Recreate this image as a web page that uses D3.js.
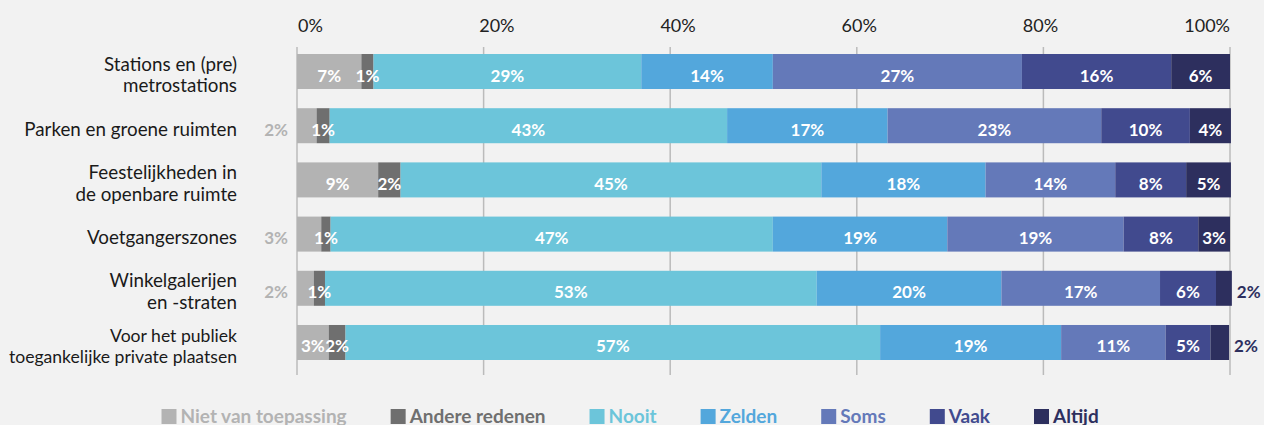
<!DOCTYPE html>
<html>
<head>
<meta charset="utf-8">
<script src="https://cdn.jsdelivr.net/npm/d3@7"></script>
<style>
  html, body { margin: 0; padding: 0; background: #f2f2f2; }
  svg { display: block; font-family: Lato, "Open Sans", sans-serif; }
</style>
</head>
<body>
<svg id="chart" width="1264" height="425"></svg>
<script>
// rows, top to bottom
var categories = [
  "Stations en (pre)\nmetrostations",
  "Parken en groene ruimten",
  "Feestelijkheden in\nde openbare ruimte",
  "Voetgangerszones",
  "Winkelgalerijen\nen -straten",
  "Voor het publiek\ntoegankelijke private plaatsen"
];

var seriesNames = ["Niet van toepassing", "Andere redenen", "Nooit", "Zelden", "Soms", "Vaak", "Altijd"];
var seriesColors = ["#b3b3b3", "#6f6f6f", "#6cc5da", "#53a7dc", "#6479b9", "#414a8e", "#2d2f5e"];

// percentages per row
var nietVanToepassing = [6.9, 2.1, 8.7, 2.6, 1.8, 3.4];
var andereRedenen     = [1.3, 1.4, 2.4, 1.0, 1.2, 1.8];
var nooit             = [28.7, 42.6, 45.1, 47.4, 52.7, 57.3];
var zelden            = [14.1, 17.2, 17.6, 18.7, 19.8, 19.4];
var soms              = [26.7, 22.9, 13.9, 18.9, 17.0, 11.2];
var vaak              = [16.0, 9.5, 7.6, 8.0, 6.0, 4.8];
var altijd            = [6.3, 4.4, 4.8, 3.4, 1.7, 2.0];

var tickValues = [0, 20, 40, 60, 80, 100];

(function() {
  var svg = d3.select("#chart");
  var allSeries = [nietVanToepassing, andereRedenen, nooit, zelden, soms, vaak, altijd];

  // table for d3.stack
  var table = categories.map(function(c, i) {
    var row = { category: c };
    seriesNames.forEach(function(s, j) { row[s] = allSeries[j][i]; });
    return row;
  });

  var stacked = d3.stack().keys(seriesNames)(table);

  var x = d3.scaleLinear()
      .domain([0, 100])
      .range([297, 1230]);

  var y = d3.scaleBand()
      .domain(categories)
      .range([54, 360])
      .paddingInner(0.354)
      .paddingOuter(0);

  // left edges of the tick labels are evenly spaced, the last one sits flush right
  var tickLabelX = d3.scaleLinear()
      .domain([0, 100])
      .range([298, 1204]);

  // grid
  svg.append("g")
      .attr("class", "grid")
    .selectAll("line")
    .data(tickValues)
    .enter().append("line")
      .attr("x1", function(d) { return x(d); })
      .attr("x2", function(d) { return x(d); })
      .attr("y1", 47)
      .attr("y2", 375)
      .attr("stroke", "#bbbbbb")
      .attr("stroke-width", 1.5);

  svg.append("g")
      .attr("class", "ticks")
    .selectAll("text")
    .data(tickValues)
    .enter().append("text")
      .attr("x", function(d, i) { return i === tickValues.length - 1 ? x(d) : tickLabelX(d); })
      .attr("y", 31.5)
      .attr("text-anchor", function(d, i) { return i === tickValues.length - 1 ? "end" : "start"; })
      .attr("font-size", "18px")
      .attr("fill", "#222")
      .text(function(d) { return d + "%"; });

  // category labels, shrunk if a line would run off the left edge
  var lineH = 21.6,
      labelRight = 237,
      labelMax = 228,
      labelSize = 18.8;
  svg.append("g")
      .attr("class", "categories")
    .selectAll("text")
    .data(categories)
    .enter().append("text")
      .attr("text-anchor", "end")
      .attr("font-size", labelSize + "px")
      .attr("fill", "#1a1a1a")
      .each(function(d) {
        var lines = d.split("\n");
        var cy = y(d) + y.bandwidth() / 2;
        var first = cy + 10 - (lines.length - 1) * lineH / 2;
        var spans = d3.select(this).selectAll("tspan")
          .data(lines)
          .enter().append("tspan")
            .attr("x", labelRight)
            .attr("y", function(l, k) { return first + k * lineH; })
            .text(function(l) { return l; });
        var widest = d3.max(spans.nodes(), function(n) { return n.getComputedTextLength(); });
        if (widest > labelMax) {
          d3.select(this).attr("font-size", (labelSize * labelMax / widest) + "px");
        }
      });

  // bars
  var layer = svg.append("g")
      .attr("class", "bars")
    .selectAll("g")
    .data(stacked)
    .enter().append("g")
      .attr("fill", function(d, i) { return seriesColors[i]; });

  layer.selectAll("rect")
    .data(function(d) { return d; })
    .enter().append("rect")
      .attr("x", function(d) { return x(d[0]); })
      .attr("y", function(d) { return y(d.data.category); })
      .attr("width", function(d) { return x(d[1]) - x(d[0]); })
      .attr("height", y.bandwidth());

  // value labels
  var last = seriesNames.length - 1;
  stacked.forEach(function(s, si) {
    svg.append("g")
        .attr("class", "values")
      .selectAll("text")
      .data(s)
      .enter().append("text")
        .attr("font-size", "17px")
        .attr("font-weight", "bold")
        .each(function(d) {
          var w = x(d[1]) - x(d[0]);
          var outside = (si === 0 || si === last) && w < 28;
          var t = d3.select(this)
            .attr("y", y(d.data.category) + y.bandwidth() / 2 + 10)
            .text(Math.round(d[1] - d[0]) + "%");
          if (!outside) {
            t.attr("x", (x(d[0]) + x(d[1])) / 2).attr("text-anchor", "middle").attr("fill", "#fff");
          } else if (si === 0) {
            t.attr("x", x(0) - 9).attr("text-anchor", "end").attr("fill", seriesColors[0]);
          } else {
            t.attr("x", x(d[1]) + 5).attr("text-anchor", "start").attr("fill", seriesColors[last]);
          }
        });
  });

  // legend
  var legend = svg.append("g").attr("class", "legend");
  var lx = 161.5;
  seriesNames.forEach(function(name, i) {
    legend.append("rect")
        .attr("x", lx)
        .attr("y", 409)
        .attr("width", 15)
        .attr("height", 15)
        .attr("fill", seriesColors[i]);
    var t = legend.append("text")
        .attr("x", lx + 19)
        .attr("y", 423)
        .attr("font-size", "19px")
        .attr("font-weight", "bold")
        .attr("fill", seriesColors[i])
        .text(name);
    lx += 19 + t.node().getComputedTextLength() + 44;
  });
})();
</script>
</body>
</html>
